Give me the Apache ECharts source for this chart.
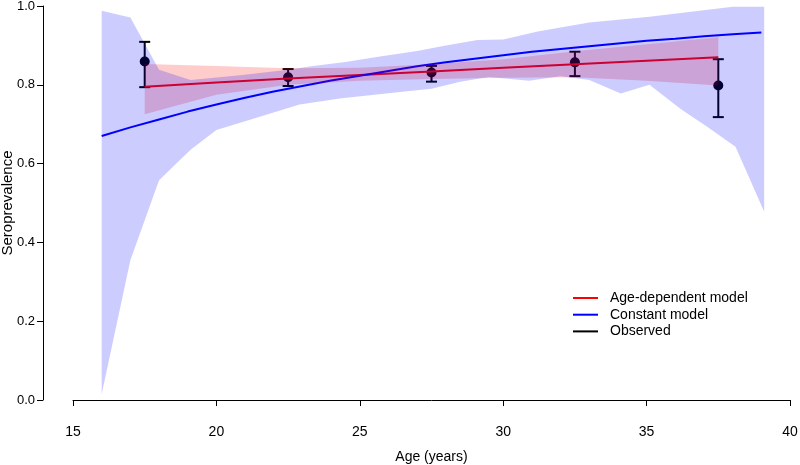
<!DOCTYPE html>
<html><head><meta charset="utf-8">
<script src="https://cdn.jsdelivr.net/npm/echarts/dist/echarts.min.js"></script>
<style>html,body{margin:0;padding:0;background:#fff}#c{width:800px;height:465px}</style>
</head><body><div id="c"></div>
<script>
// ---- data ----
const xTicks = [15, 20, 25, 30, 35, 40];
const yTicks = [0, 0.2, 0.4, 0.6, 0.8, 1.0];

const obsAge = [17.5, 22.5, 27.5, 32.5, 37.5];
const obsVal = [0.859, 0.819, 0.831, 0.857, 0.798];
const obsLo  = [0.794, 0.797, 0.808, 0.822, 0.718];
const obsHi  = [0.909, 0.840, 0.848, 0.884, 0.865];

const constAge = [16, 17, 18, 19, 20, 21, 22, 23, 24, 25, 26, 27, 28, 29, 30, 31, 32, 33, 34, 35, 36, 37, 38, 39];
const constVal = [0.670, 0.692, 0.712, 0.732, 0.750, 0.767, 0.783, 0.797, 0.811, 0.823, 0.835, 0.847, 0.857, 0.866, 0.875, 0.884, 0.891, 0.898, 0.905, 0.912, 0.917, 0.923, 0.928, 0.933];

const constUpperAge = [16, 17.0, 18.0, 19.1, 20.9, 22.5, 23.3, 24.5, 25.7, 27.0, 28.0, 29.1, 30.0, 31.2, 33.0, 35.1, 38.0, 39.1];
const constUpperVal = [0.988, 0.971, 0.838, 0.812, 0.825, 0.838, 0.847, 0.858, 0.872, 0.886, 0.900, 0.914, 0.915, 0.935, 0.958, 0.973, 0.998, 0.998];
const constLowerAge = [16, 17.0, 18.0, 19.1, 20.0, 21.2, 22.9, 24.3, 26.4, 27.5, 28.5, 29.5, 30.9, 32.0, 33.0, 34.1, 35.1, 36.2, 37.1, 38.1, 39.1];
const constLowerVal = [0.015, 0.355, 0.558, 0.635, 0.685, 0.712, 0.750, 0.765, 0.782, 0.790, 0.808, 0.820, 0.810, 0.822, 0.812, 0.778, 0.800, 0.738, 0.694, 0.643, 0.478];

const ageDepAge = [17.5, 20, 22.5, 25, 27.5, 30, 32.5, 35, 37.5];
const ageDepVal = [0.795, 0.806, 0.816, 0.825, 0.834, 0.843, 0.852, 0.861, 0.870];
const ageDepLo  = [0.725, 0.775, 0.800, 0.810, 0.815, 0.818, 0.819, 0.810, 0.798];
const ageDepHi  = [0.853, 0.848, 0.842, 0.843, 0.852, 0.865, 0.885, 0.903, 0.921];

// ---- chart ----
const FONT = '"Liberation Sans", Arial, sans-serif';
const chart = echarts.init(document.getElementById('c'), null, {renderer: 'canvas'});

function pairs(a, b) { return a.map((x, i) => [x, b[i]]); }

function bandRender(ax, ay, bx, by, color) {
  return function (params, api) {
    if (params.dataIndex !== 0) return null;
    const pts = [];
    for (let i = 0; i < ax.length; i++) pts.push(api.coord([ax[i], ay[i]]));
    for (let i = bx.length - 1; i >= 0; i--) pts.push(api.coord([bx[i], by[i]]));
    return {type: 'polygon', shape: {points: pts}, style: {fill: color}};
  };
}

const obsData = obsAge.map((x, i) => [x, obsVal[i], obsLo[i], obsHi[i]]);

const option = {
  animation: false,
  backgroundColor: '#fff',
  textStyle: {fontFamily: FONT},
  grid: {left: 73, right: 10, top: 6, bottom: 65, containLabel: false, outerBoundsMode: 'none'},
  legend: {
    orient: 'vertical', left: 568, top: 286,
    itemWidth: 25, itemHeight: 2, itemGap: 2.7, icon: 'rect',
    textStyle: {fontSize: 14, fontFamily: FONT, color: '#000', padding: [0, 0, 0, 7]},
    data: ['Age-dependent model', 'Constant model', 'Observed']
  },
  xAxis: {
    type: 'value', min: 15, max: 40, interval: 5, offset: 16,
    axisLine: {show: true, lineStyle: {color: '#000', width: 1}},
    axisTick: {show: true, length: 6, lineStyle: {color: '#000'}},
    splitLine: {show: false},
    axisLabel: {fontSize: 14, color: '#000', margin: 9, fontFamily: FONT,
      customValues: xTicks},
    name: 'Age (years)', nameLocation: 'middle', nameGap: 34, nameMoveOverlap: false,
    nameTextStyle: {fontSize: 14, color: '#000', fontFamily: FONT}
  },
  yAxis: {
    type: 'value', min: 0, max: 1, interval: 0.2, offset: 30,
    axisLine: {show: true, lineStyle: {color: '#000', width: 1}},
    axisTick: {show: true, length: 6, lineStyle: {color: '#000'}},
    splitLine: {show: false},
    axisLabel: {fontSize: 13, color: '#000', margin: 8, fontFamily: FONT,
      formatter: v => v.toFixed(1)},
    name: 'Seroprevalence', nameLocation: 'middle', nameGap: 28, nameRotate: 90, nameMoveOverlap: false,
    nameTextStyle: {fontSize: 15, color: '#000', fontFamily: FONT}
  },
  series: [
    {
      name: 'Observed', type: 'custom', z: 2, silent: true,
      itemStyle: {color: '#000'},
      data: obsData,
      renderItem: function (params, api) {
        const x = api.value(0), v = api.value(1), lo = api.value(2), hi = api.value(3);
        const pL = api.coord([x, lo]), pH = api.coord([x, hi]), p = api.coord([x, v]);
        const w = 5.5;
        const st = {stroke: '#000', lineWidth: 2};
        return {type: 'group', children: [
          {type: 'line', shape: {x1: pL[0], y1: pL[1], x2: pH[0], y2: pH[1]}, style: st},
          {type: 'line', shape: {x1: pL[0] - w, y1: pL[1], x2: pL[0] + w, y2: pL[1]}, style: st},
          {type: 'line', shape: {x1: pH[0] - w, y1: pH[1], x2: pH[0] + w, y2: pH[1]}, style: st},
          {type: 'circle', shape: {cx: p[0], cy: p[1], r: 5}, style: {fill: '#000'}}
        ]};
      }
    },
    {
      name: 'Age-dependent model', type: 'line', z: 3, silent: true,
      data: pairs(ageDepAge, ageDepVal), showSymbol: false, symbol: 'none',
      itemStyle: {color: '#ff0000'},
      lineStyle: {color: '#ff0000', width: 2}
    },
    {
      name: 'Constant model', type: 'line', z: 3, silent: true,
      data: pairs(constAge, constVal), showSymbol: false, symbol: 'none',
      itemStyle: {color: '#0000ff'},
      lineStyle: {color: '#0000ff', width: 2}
    },
    {
      name: 'bandAge', type: 'custom', z: 5, silent: true,
      data: [[ageDepAge[0], ageDepVal[0]]],
      renderItem: bandRender(ageDepAge, ageDepHi, ageDepAge, ageDepLo, 'rgba(255,0,0,0.2)')
    },
    {
      name: 'bandConst', type: 'custom', z: 6, silent: true,
      data: [[constUpperAge[0], constUpperVal[0]]],
      renderItem: bandRender(constUpperAge, constUpperVal, constLowerAge, constLowerVal, 'rgba(0,0,255,0.2)')
    }
  ]
};
chart.setOption(option);
</script>
</body></html>
